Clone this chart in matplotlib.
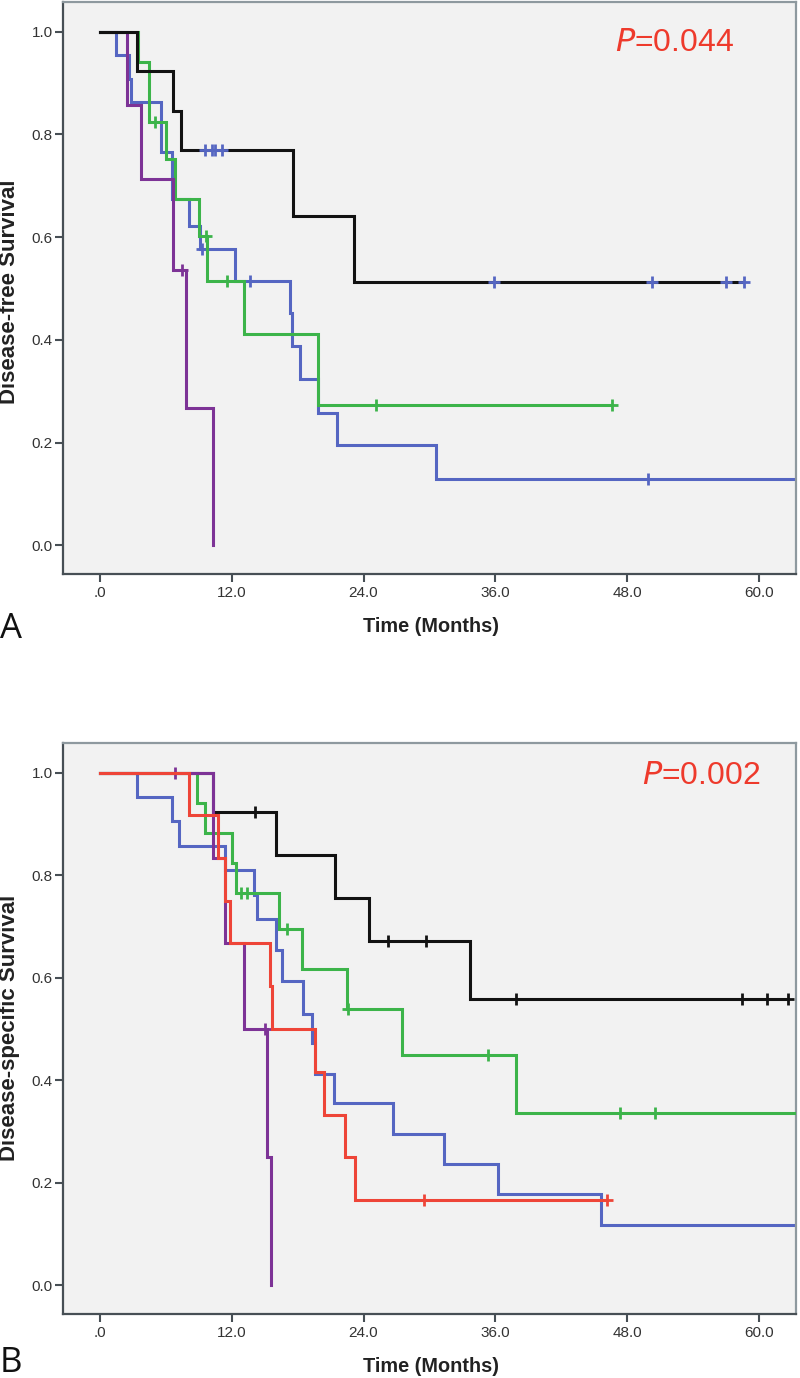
import numpy as np
import matplotlib
matplotlib.use("Agg")
import matplotlib.pyplot as plt

# ---------------- data ----------------
# Panel A : Disease-free survival
A_black_t = [0, 3.4, 6.7, 7.4, 17.6, 23.1, 58.6]
A_black_s = [1.0, 0.923, 0.846, 0.769, 0.641, 0.513, 0.513]
A_black_c = [9.6, 10.2, 10.5, 11.1, 35.9, 50.2, 57.0, 58.6]

A_green_t = [0, 3.5, 4.5, 6.0, 6.9, 9.0, 9.8, 13.1, 19.9, 46.6]
A_green_s = [1.0, 0.941, 0.824, 0.753, 0.675, 0.602, 0.514, 0.411, 0.274, 0.274]
A_green_c = [5.0, 9.7, 11.6, 25.1, 46.6]

A_blue_t = [0, 1.5, 2.7, 2.9, 5.6, 6.6, 8.1, 9.1, 12.3, 17.3, 17.5, 18.2, 19.9, 21.6, 30.6, 66]
A_blue_s = [1.0, 0.955, 0.909, 0.864, 0.765, 0.674, 0.622, 0.576, 0.514, 0.453, 0.388,
            0.323, 0.258, 0.195, 0.129, 0.129]
A_blue_c = [9.3, 13.7, 49.9]

A_purple_t = [0, 2.5, 3.8, 6.7, 7.9, 10.3]
A_purple_s = [1.0, 0.857, 0.714, 0.536, 0.268, 0.0]
A_purple_c = [7.5]

# Panel B : Disease-specific survival
B_black_t = [0, 10.3, 16.0, 21.4, 24.5, 33.7, 62.6]
B_black_s = [1.0, 0.923, 0.839, 0.755, 0.671, 0.559, 0.559]
B_black_c = [14.1, 26.2, 29.7, 37.9, 58.4, 60.7, 62.6]

B_green_t = [0, 8.9, 9.6, 12.0, 12.4, 16.3, 18.4, 22.5, 27.5, 37.9, 66]
B_green_s = [1.0, 0.941, 0.882, 0.824, 0.765, 0.695, 0.617, 0.540, 0.449, 0.336, 0.336]
B_green_c = [12.9, 13.4, 17.0, 22.6, 35.3, 47.3, 50.5]

B_blue_t = [0, 3.4, 6.6, 7.2, 11.4, 14.0, 14.3, 16.0, 16.6, 18.5, 19.3, 19.6, 21.3,
            26.7, 31.3, 36.2, 45.6, 66]
B_blue_s = [1.0, 0.952, 0.905, 0.857, 0.810, 0.762, 0.714, 0.655, 0.593, 0.530, 0.472,
            0.412, 0.355, 0.296, 0.237, 0.178, 0.118, 0.118]
B_blue_c = []

B_red_t = [0, 8.1, 10.8, 11.4, 11.9, 15.5, 15.7, 19.6, 20.4, 22.3, 23.2, 46.1]
B_red_s = [1.0, 0.917, 0.833, 0.750, 0.667, 0.583, 0.500, 0.417, 0.333, 0.250, 0.167, 0.167]
B_red_c = [29.5, 46.1]

B_purple_t = [0, 10.3, 11.4, 13.1, 15.2, 15.6]
B_purple_s = [1.0, 0.833, 0.667, 0.500, 0.250, 0.0]
B_purple_c = [6.9, 15.0]

x_ticks = [0, 12, 24, 36, 48, 60]
x_ticklabels = [".0", "12.0", "24.0", "36.0", "48.0", "60.0"]
y_ticks = [0.0, 0.2, 0.4, 0.6, 0.8, 1.0]
y_ticklabels = ["0.0", "0.2", "0.4", "0.6", "0.8", "1.0"]

p_text_A = "0.044"
p_text_B = "0.002"
ylabel_A = "Disease-free Survival"
ylabel_B = "Disease-specific Survival"
xlabel = "Time (Months)"

# ---------------- style ----------------
C_BLACK = "#121212"
C_GREEN = "#3cb44a"
C_BLUE = "#5566c2"
C_PURPLE = "#7d3396"
C_RED = "#ee4538"
C_PVAL = "#ee3a2c"

W, H = 800, 1378
fig = plt.figure(figsize=(W / 100, H / 100), dpi=100)
fig.patch.set_facecolor("white")

TICK_FONT = ["Liberation Sans Narrow", "Liberation Sans", "DejaVu Sans"]
LABEL_FONT = ["Liberation Sans", "DejaVu Sans"]


def px_box(left, top, right, bottom):
    return [left / W, 1 - bottom / H, (right - left) / W, (bottom - top) / H]


def km(ax, t, s, c, color, ccolor=None, z=2):
    t = np.asarray(t, float)
    s = np.asarray(s, float)
    ax.step(t, s, where="post", color=color, lw=2.2, zorder=z, solid_joinstyle="miter")
    if len(c):
        c = np.asarray(c, float)
        idx = np.searchsorted(t, c, side="right") - 1
        ax.plot(c, s[idx], ls="none", marker="+", ms=9, mew=2.0,
                color=ccolor or color, zorder=z + 0.5)


def style_axes(ax):
    ax.set_facecolor("#f2f2f2")
    ax.set_xlim(-3.32, 63.32)
    ax.set_ylim(-0.056, 1.058)
    ax.set_xticks(x_ticks)
    ax.set_xticklabels(x_ticklabels)
    ax.set_yticks(y_ticks)
    ax.set_yticklabels(y_ticklabels)
    for sp in ("left", "bottom"):
        ax.spines[sp].set_color("#474f55")
        ax.spines[sp].set_linewidth(1.6)
    for sp in ("top", "right"):
        ax.spines[sp].set_color("#8e999f")
        ax.spines[sp].set_linewidth(1.6)
    ax.tick_params(axis="both", direction="out", length=5.5, width=1.5,
                   color="#474f55", labelcolor="#333333", labelsize=11)
    ax.tick_params(axis="y", pad=2)
    ax.tick_params(axis="x", pad=3)
    for lab in ax.get_xticklabels() + ax.get_yticklabels():
        lab.set_family(TICK_FONT)


# ---------------- panel A ----------------
axA = fig.add_axes(px_box(63, 2, 796, 574))
style_axes(axA)
km(axA, A_blue_t, A_blue_s, A_blue_c, C_BLUE, z=2)
km(axA, A_green_t, A_green_s, A_green_c, C_GREEN, z=3)
km(axA, A_purple_t, A_purple_s, A_purple_c, C_PURPLE, z=4)
km(axA, A_black_t, A_black_s, A_black_c, C_BLACK, ccolor=C_BLUE, z=5)
axA.text(0.753, 0.929, r"$\mathit{P}$" + "=" + p_text_A, transform=axA.transAxes,
         ha="left", va="center", color=C_PVAL, fontsize=23, family=LABEL_FONT)

# ---------------- panel B ----------------
axB = fig.add_axes(px_box(63, 743, 796, 1314))
style_axes(axB)
km(axB, B_blue_t, B_blue_s, B_blue_c, C_BLUE, z=2)
km(axB, B_green_t, B_green_s, B_green_c, C_GREEN, z=3)
km(axB, B_black_t, B_black_s, B_black_c, C_BLACK, z=4)
km(axB, B_purple_t, B_purple_s, B_purple_c, C_PURPLE, z=5)
km(axB, B_red_t, B_red_s, B_red_c, C_RED, z=6)
axB.text(0.7895, 0.9415, r"$\mathit{P}$" + "=" + p_text_B, transform=axB.transAxes,
         ha="left", va="center", color=C_PVAL, fontsize=23, family=LABEL_FONT)

# ---------------- labels ----------------
def fig_text(px, py, s, **kw):
    fig.text(px / W, 1 - py / H, s, **kw)

fig_text(10, 292, ylabel_A, rotation=90, ha="center", va="center", fontsize=16,
         fontweight="bold", color="#222222", family=TICK_FONT)
fig_text(10, 1028, ylabel_B, rotation=90, ha="center", va="center", fontsize=16,
         fontweight="bold", color="#222222", family=TICK_FONT)
fig_text(431, 626, xlabel, ha="center", va="center", fontsize=14.3,
         fontweight="bold", color="#222222", family=TICK_FONT)
fig_text(431, 1366, xlabel, ha="center", va="center", fontsize=14.3,
         fontweight="bold", color="#222222", family=TICK_FONT)
fig_text(0, 629, "A", ha="left", va="center", fontsize=25, color="#111111",
         family=["Open Sans", "DejaVu Sans"])
fig_text(0, 1363, "B", ha="left", va="center", fontsize=25, color="#111111",
         family=["Open Sans", "DejaVu Sans"])

fig.savefig("out.png", dpi=100, facecolor="white")
